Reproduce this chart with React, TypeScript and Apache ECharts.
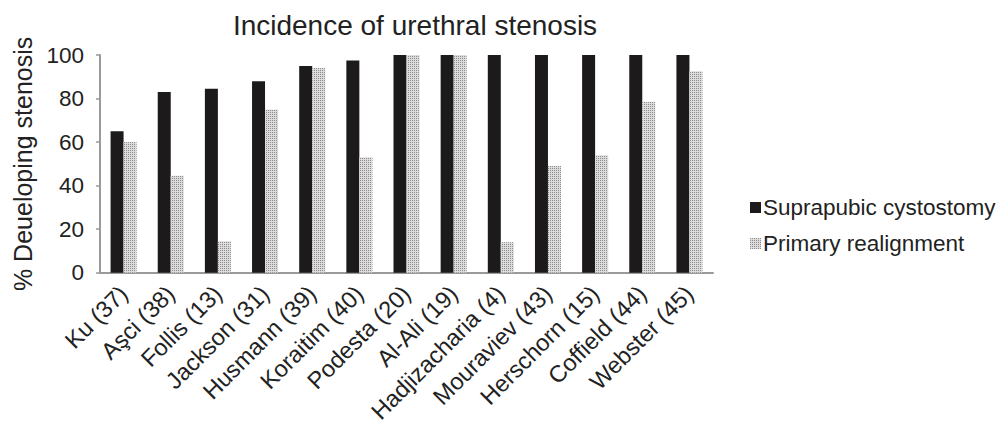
import React, { useEffect, useRef } from "react";
import * as echarts from "echarts";

const categories = [
  "Ku (37)", "Aşci (38)", "Follis (13)", "Jackson (31)", "Husmann (39)", "Koraitim (40)",
  "Podesta (20)", "Al-Ali (19)", "Hadjizacharia (4)", "Mouraviev (43)", "Herschorn (15)",
  "Coffield (44)", "Webster (45)",
];
const suprapubic = [65, 83, 84.5, 88, 95, 97.5, 100, 100, 100, 100, 100, 100, 100];
const primary = [60, 44.5, 14.5, 75, 94, 53, 100, 100, 14, 49, 54, 78.5, 92.5];
const yTicks = [0, 20, 40, 60, 80, 100];

const FONT = "'Liberation Sans', Arial, Helvetica, sans-serif";

export default function App() {
  const ref = useRef<HTMLDivElement>(null);
  useEffect(() => {
    document.body.style.margin = "0";
    const chart = echarts.init(ref.current!, null, { renderer: "svg" });
    chart.setOption({
      animation: false,
      backgroundColor: "#ffffff",
      textStyle: { fontFamily: FONT, color: "#222" },
      title: {
        text: "Incidence of urethral stenosis",
        left: 410,
        textAlign: "center",
        top: 6,
        textStyle: { fontFamily: FONT, fontSize: 28, fontWeight: "normal", color: "#222" },
      },
      legend: {
        orient: "vertical",
        left: 745,
        top: 191,
        itemWidth: 11,
        itemHeight: 11,
        itemGap: 13,
        icon: "rect",
        textStyle: { fontFamily: FONT, fontSize: 22.5, color: "#222", padding: [0, 0, 0, -3] },
        data: ["Suprapubic cystostomy", "Primary realignment"],
      },
      grid: { left: 100, right: 287, top: 55, bottom: 150 },
      xAxis: {
        type: "category",
        data: categories,
        axisTick: { show: false },
        axisLine: { lineStyle: { color: "#9a9a9a", width: 2 } },
        axisLabel: {
          rotate: 45,
          interval: 0,
          margin: 17,
          fontFamily: FONT,
          fontSize: 23.5,
          color: "#222",
        },
      },
      yAxis: {
        type: "value",
        min: 0,
        max: 100,
        interval: 20,
        name: "% Deueloping stenosis",
        nameLocation: "middle",
        nameGap: 65,
        nameTextStyle: { fontFamily: FONT, fontSize: 25, color: "#222" },
        splitLine: { show: false },
        axisLine: { show: true, lineStyle: { color: "#9a9a9a", width: 2 } },
        axisTick: { show: true, length: 4, lineStyle: { color: "#9a9a9a", width: 1.5 } },
        axisLabel: {
          margin: 16,
          fontFamily: FONT,
          fontSize: 22.5,
          color: "#222",
          formatter: (v: number) => (yTicks.includes(v) ? String(v) : ""),
        },
      },
      series: [
        {
          name: "Suprapubic cystostomy",
          type: "bar",
          data: suprapubic,
          barWidth: 13,
          barGap: "0%",
          itemStyle: { color: "#1c1a1b" },
        },
        {
          name: "Primary realignment",
          type: "bar",
          data: primary,
          barWidth: 13,
          barGap: "0%",
          itemStyle: {
            color: "#dcdcdc",
            decal: {
              symbol: "rect",
              symbolSize: 1,
              color: "#8c8c8c",
              dashArrayX: [1, 1],
              dashArrayY: [1, 1],
              rotation: 0,
            },
          },
        },
      ],
    });
    return () => chart.dispose();
  }, []);
  return <div ref={ref} style={{ width: 1000, height: 426 }} />;
}
